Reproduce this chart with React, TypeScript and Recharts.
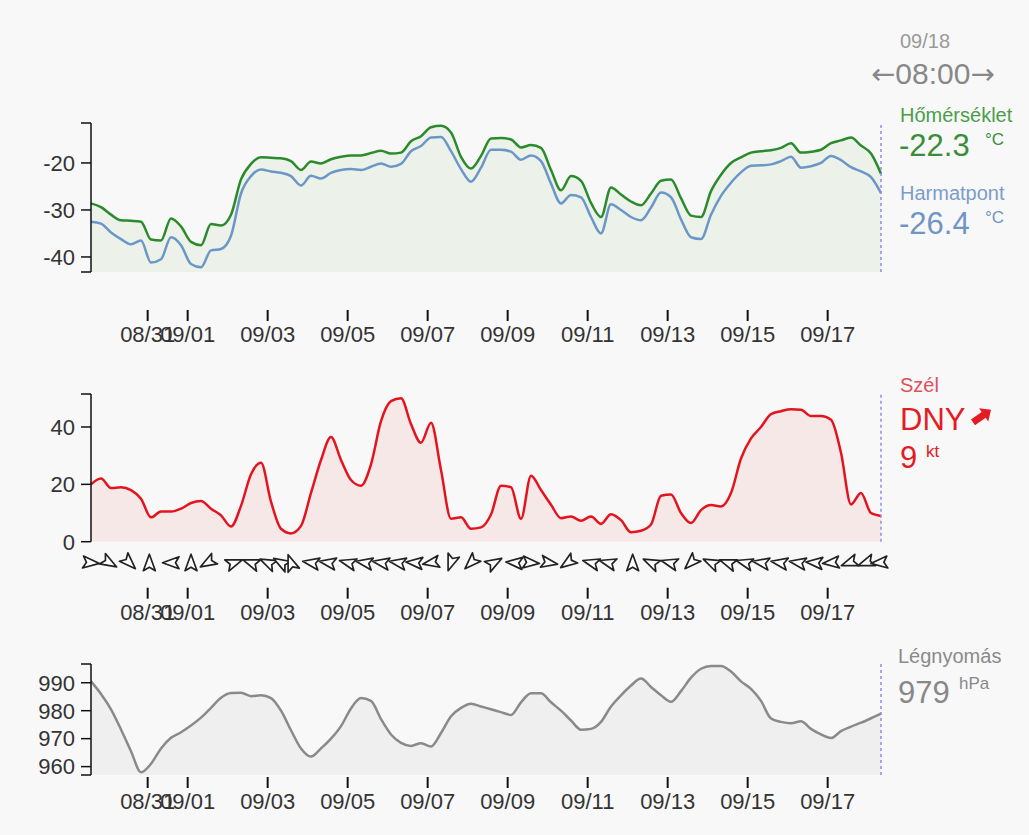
import React from "react";
import { Area, ComposedChart, Line, ReferenceLine, Scatter, XAxis, YAxis } from "recharts";

// hours relative to 09/01 00:00, one reading every 6 hours
const startHour = -58;
const stepHours = 6;
const nowHour = 416; // 09/18 08:00

const tempC = [
  -28.6, -29.4, -31.0, -32.2, -32.3, -32.5, -36.3, -36.5, -31.8, -33.5,
  -36.8, -37.5, -33.0, -33.3, -31.0, -23.5, -20.2, -18.8, -18.9, -19.0,
  -19.6, -21.5, -19.7, -20.1, -19.2, -18.7, -18.4, -18.4, -17.9, -17.4,
  -18.0, -17.8, -15.4, -14.3, -12.4, -12.1, -13.5, -18.7, -21.2, -18.5,
  -14.8, -14.7, -15.0, -16.7, -16.2, -16.8, -21.5, -25.8, -22.8, -23.8,
  -28.5, -31.5, -25.2, -26.7, -28.2, -29.0, -26.5, -23.8, -23.5, -27.5,
  -31.2, -31.5, -26.0, -22.5, -20.0, -18.8, -17.8, -17.5, -17.3, -16.8,
  -15.8, -17.8, -17.6, -17.2, -15.8, -15.2, -14.6, -16.3, -18.0, -22.3,
];

const dewC = [
  -32.5, -32.9, -34.8, -36.2, -37.3, -36.5, -41.2, -40.5, -35.8, -37.5,
  -41.5, -42.2, -38.6, -38.3, -35.5, -26.5, -22.8, -21.4, -21.8, -22.1,
  -22.8, -24.8, -22.7, -23.3, -22.1, -21.5, -21.3, -21.5, -20.8, -20.1,
  -20.8, -20.2, -17.5, -16.4, -14.6, -14.5, -17.5, -21.3, -24.0, -21.0,
  -17.2, -17.2, -17.6, -19.3, -18.4, -19.6, -24.4, -28.6, -26.8, -27.3,
  -31.5, -35.0, -28.8, -30.0, -31.5, -32.2, -29.5, -26.3, -27.3, -32.0,
  -35.8, -36.2, -31.0, -27.0, -24.2, -22.0, -20.6, -20.5, -20.3, -19.6,
  -18.7, -21.0, -20.7, -20.0, -18.5, -19.4, -20.9, -21.8, -23.0, -26.4,
];

const windKt = [
  20.0, 22.0, 18.7, 19.0, 18.0, 15.0, 8.5, 10.5, 10.5, 11.5,
  13.5, 14.2, 11.5, 9.2, 5.3, 12.5, 23.5, 27.5, 14.0, 4.5,
  2.9, 5.5, 17.0, 28.5, 36.5, 28.5, 21.5, 19.5, 27.0, 42.0,
  49.0, 50.0, 41.0, 34.5, 41.5, 25.0, 8.0, 8.5, 4.5, 5.0,
  9.5, 19.5, 19.0, 8.0, 23.0, 18.0, 12.9, 8.2, 8.8, 7.3,
  8.8, 6.2, 9.6, 7.5, 3.3, 3.8, 6.0, 16.0, 16.5, 10.0,
  6.5, 11.0, 12.8, 12.3, 17.0, 29.0, 36.0, 40.0, 44.5, 45.5,
  46.2, 46.0, 43.8, 43.8, 42.5, 31.0, 13.0, 17.0, 10.0, 9.0,
];

const pressureHpa = [
  990.5, 986.0, 980.5, 973.3, 965.5, 958.0, 961.0, 966.5, 970.3, 972.3,
  974.7, 977.5, 981.0, 984.6, 986.3, 986.4, 985.2, 985.5, 984.5, 980.0,
  973.0, 966.5, 963.6, 966.5, 970.0, 974.5, 980.8, 984.5, 983.5, 977.0,
  971.5, 968.5, 967.4, 968.4, 967.2, 972.0, 978.0, 981.0, 982.5, 981.5,
  980.5, 979.5, 978.5, 983.0, 986.2, 986.2, 983.0, 980.0, 976.5, 973.2,
  973.5, 976.0, 981.5, 985.5, 989.0, 991.5, 988.5, 985.5, 983.2, 987.0,
  991.8, 995.0, 996.0, 996.0, 994.0, 990.5, 987.8, 983.5, 977.2, 976.0,
  975.5, 976.2, 973.5, 971.5, 970.2, 972.7, 974.3, 975.7, 977.3, 979.0,
];

// wind direction arrows: hour and heading of the glyph (deg, clockwise from up)
const windArrowHours = [
  -58, -47, -35, -23, -10, 2, 12, 28, 38, 48, 56, 62, 74, 84, 96, 106, 116, 126, 136, 146, 158, 170,
  184, 196, 206, 217, 228, 242, 252, 267, 278, 289, 302, 314, 324, 334, 344, 355, 366, 376, 386, 397, 407, 415,
];
const windArrowAngles = [
  95, 120, 135, 0, 270, 0, 240, 70, 290, 295, 300, 340, 280, 280, 285, 280, 280, 280, 275, 260, 200, 225,
  60, 275, 95, 100, 235, 285, 285, 0, 295, 285, 225, 295, 290, 285, 280, 280, 280, 275, 265, 250, 250, 265,
];

const dateTicks = [-24, 0, 48, 96, 144, 192, 240, 288, 336, 384];
const dateLabels = ["08/31", "09/01", "09/03", "09/05", "09/07", "09/09", "09/11", "09/13", "09/15", "09/17"];

const tempTicks = [-43.2, -40, -30, -20, -11.5];
const windTicks = [0, 20, 40, 51.5];
const pressureTicks = [957, 960, 970, 980, 990, 996.7];

const rows = tempC.map((temp, i) => ({
  t: startHour + i * stepHours,
  temp,
  dew: dewC[i],
  wind: windKt[i],
  pressure: pressureHpa[i],
}));
const windArrows = windArrowHours.map((t, i) => ({ t, dir: windArrowAngles[i] }));

const axisFont = "'Liberation Sans', Arial, sans-serif";
const W = 1029;
const leftW = 91;
const rightM = W - 881;

const DateTick = (props: any) => {
  const { x, y, payload, drop } = props;
  const label = dateLabels[dateTicks.indexOf(payload.value)];
  return (
    <g>
      <line x1={x} x2={x} y1={y + drop} y2={y + drop + 11} stroke="#111" strokeWidth={2} />
      <text x={x} y={y + drop + 32} textAnchor="middle" fill="#333" fontSize={22} fontFamily={axisFont}>
        {label}
      </text>
    </g>
  );
};

const majorOnly = (v: number) => (v % 10 === 0 ? String(v) : "");

const yAxisProps = {
  width: leftW,
  interval: 0 as const,
  tickSize: 10,
  tickMargin: 6,
  tickFormatter: majorOnly,
  axisLine: { stroke: "#111", strokeWidth: 1.5 },
  tickLine: { stroke: "#111", strokeWidth: 1.5 },
  tick: { fill: "#333", fontSize: 22, fontFamily: axisFont },
};

const xAxisProps = (height: number, drop: number) => ({
  type: "number" as const,
  dataKey: "t",
  domain: [startHour, nowHour],
  ticks: dateTicks,
  interval: 0 as const,
  axisLine: false,
  tickLine: false,
  tickSize: 0,
  tickMargin: 0,
  height,
  tick: (p: any) => <DateTick {...p} drop={drop} />,
});

const WindArrow = (props: any) => {
  const { cx, cy, payload } = props;
  if (cx == null || cy == null) return null;
  return (
    <g transform={`translate(${cx},${cy + 21}) rotate(${payload.dir})`}>
      <polygon
        points="0,-8.5 6,8 0,4.5 -6,8"
        fill="#fff"
        stroke="#222"
        strokeWidth={1.7}
        strokeLinejoin="round"
      />
    </g>
  );
};

const nowLine = <ReferenceLine x={nowHour} stroke="#8c8cf0" strokeWidth={1.5} strokeDasharray="3 3" />;

const Side = () => (
  <svg width={W} height={835} style={{ position: "absolute", left: 0, top: 0, pointerEvents: "none" }}>
    <g fontFamily={axisFont}>
      <text x={900} y={48} fontSize={20} fill="#9a9a9a">09/18</text>
      <text x={871} y={84} fontSize={30} fill="#888">
        <tspan fontFamily="'DejaVu Sans', sans-serif" fontSize={29}>←</tspan>
        <tspan>08:00</tspan>
        <tspan fontFamily="'DejaVu Sans', sans-serif" fontSize={29}>→</tspan>
      </text>

      <text x={900} y={122} fontSize={20} fill="#4a9e4a">Hőmérséklet</text>
      <text x={899} y={156} fontSize={31} fill="#3a8e3a">-22.3</text>
      <text x={985} y={145} fontSize={17} fill="#3a8e3a">°C</text>

      <text x={900} y={200} fontSize={20} fill="#7b9dca">Harmatpont</text>
      <text x={899} y={234} fontSize={31} fill="#6f95c5">-26.4</text>
      <text x={985} y={223} fontSize={17} fill="#6f95c5">°C</text>

      <text x={900} y={392} fontSize={20} fill="#e0505a">Szél</text>
      <text x={900} y={430} fontSize={31} fill="#e41b23">DNY</text>
      <g transform="translate(982,416) rotate(-35)">
        <polygon points="-11,-3.5 2,-3.5 2,-8 11,0 2,8 2,3.5 -11,3.5" fill="#e41b23" />
      </g>
      <text x={900} y={468} fontSize={31} fill="#e41b23">9</text>
      <text x={926} y={457} fontSize={17} fill="#e41b23">kt</text>

      <text x={898} y={663} fontSize={20} fill="#8a8a8a">Légnyomás</text>
      <text x={898} y={703} fontSize={31} fill="#888">979</text>
      <text x={959} y={689} fontSize={17} fill="#888">hPa</text>
    </g>
  </svg>
);

export default function App() {
  return (
    <div style={{ position: "absolute", left: 0, top: 0, width: W, height: 835, background: "#f8f8f8" }}>
      <div style={{ position: "absolute", left: 0, top: 0 }}>
        <ComposedChart width={W} height={350} data={rows} margin={{ top: 123, right: rightM, bottom: 0, left: 0 }}>
          <XAxis {...xAxisProps(78, 38)} />
          <YAxis {...yAxisProps} domain={[-43.2, -11.5]} ticks={tempTicks} />
          <Area
            type="monotone"
            dataKey="temp"
            baseValue="dataMin"
            stroke="#2b8a2b"
            strokeWidth={2.5}
            fill="#ecf1e9"
            fillOpacity={1}
            isAnimationActive={false}
          />
          <Line type="monotone" dataKey="dew" stroke="#6b97c8" strokeWidth={2.5} dot={false} isAnimationActive={false} />
          {nowLine}
        </ComposedChart>
      </div>

      <div style={{ position: "absolute", left: 0, top: 350 }}>
        <ComposedChart width={W} height={300} data={rows} margin={{ top: 44, right: rightM, bottom: 0, left: 0 }}>
          <XAxis {...xAxisProps(108.3, 46)} />
          <YAxis {...yAxisProps} domain={[0, 51.5]} ticks={windTicks} />
          <YAxis yAxisId="lane" hide domain={[0, 1]} />
          <Area
            type="monotone"
            dataKey="wind"
            stroke="#e3141e"
            strokeWidth={2.5}
            fill="#f7e8e8"
            fillOpacity={1}
            isAnimationActive={false}
          />
          <Scatter
            data={windArrows}
            yAxisId="lane"
            dataKey={() => 0}
            shape={(p: any) => <WindArrow {...p} />}
            isAnimationActive={false}
          />
          {nowLine}
        </ComposedChart>
      </div>

      <div style={{ position: "absolute", left: 0, top: 650 }}>
        <ComposedChart width={W} height={185} data={rows} margin={{ top: 14, right: rightM, bottom: 0, left: 0 }}>
          <XAxis {...xAxisProps(60, 2)} />
          <YAxis {...yAxisProps} domain={[957, 996.7]} ticks={pressureTicks} />
          <Area
            type="monotone"
            dataKey="pressure"
            baseValue="dataMin"
            stroke="#8a8a8a"
            strokeWidth={2.5}
            fill="#efefef"
            fillOpacity={1}
            isAnimationActive={false}
          />
          {nowLine}
        </ComposedChart>
      </div>

      <Side />
    </div>
  );
}
